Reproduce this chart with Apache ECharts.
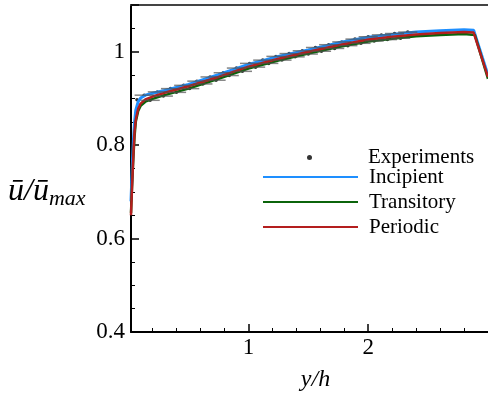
<!DOCTYPE html>
<html><head><meta charset="utf-8">
<script src="https://cdn.jsdelivr.net/npm/echarts@6/dist/echarts.min.js"></script>
<style>html,body{margin:0;padding:0;background:#fff}#c{width:488px;height:400px}</style>
</head><body><div id="c"></div>
<script>
// ---- data ----
const incipientX = [0.02,0.03,0.04,0.05,0.06,0.08,0.10,0.14,0.20,0.30,0.50,0.75,1.00,1.25,1.50,1.75,2.00,2.20,2.40,2.60,2.80,2.88,3.00];
const incipientY = [0.68,0.75,0.81,0.85,0.875,0.893,0.901,0.907,0.911,0.917,0.930,0.951,0.973,0.990,1.004,1.019,1.031,1.037,1.042,1.045,1.047,1.046,0.950];
const transitoryX = [0.02,0.03,0.04,0.05,0.06,0.08,0.10,0.14,0.20,0.30,0.50,0.75,1.00,1.25,1.50,1.75,2.00,2.20,2.40,2.60,2.80,2.89,3.00];
const transitoryY = [0.655,0.72,0.775,0.82,0.85,0.873,0.884,0.893,0.899,0.907,0.921,0.942,0.964,0.981,0.996,1.010,1.022,1.028,1.033,1.036,1.038,1.036,0.942];
const periodicX = [0.02,0.03,0.04,0.05,0.06,0.08,0.10,0.14,0.20,0.30,0.50,0.75,1.00,1.25,1.50,1.75,2.00,2.20,2.40,2.60,2.80,2.88,3.00];
const periodicY = [0.65,0.72,0.78,0.83,0.855,0.878,0.889,0.898,0.904,0.912,0.926,0.946,0.968,0.985,1.000,1.014,1.026,1.032,1.037,1.040,1.042,1.041,0.946];
const expX = [0.07,0.13,0.18,0.24,0.29,0.35,0.40,0.46,0.51,0.57,0.62,0.68,0.73,0.79,0.84,0.90,0.95,1.01,1.06,1.12,1.17,1.23,1.28,1.34,1.39,1.45,1.50,1.56,1.61,1.67,1.72,1.78,1.83,1.89,1.94,2.00,2.05,2.11,2.16,2.22,2.27,2.33];
const expY = [0.897,0.907,0.896,0.914,0.905,0.921,0.913,0.928,0.921,0.937,0.931,0.946,0.939,0.955,0.949,0.965,0.958,0.975,0.967,0.982,0.975,0.990,0.982,0.996,0.989,1.002,0.995,1.009,1.001,1.015,1.007,1.021,1.013,1.027,1.018,1.032,1.023,1.036,1.026,1.039,1.029,1.042];
const expErr = [0.00,0.08,0.08,0.08,0.08,0.08,0.08,0.08,0.08,0.08,0.08,0.08,0.08,0.08,0.08,0.08,0.08,0.08,0.08,0.08,0.08,0.08,0.08,0.08,0.08,0.08,0.08,0.08,0.08,0.08,0.08,0.08,0.08,0.08,0.08,0.08,0.08,0.08,0.08,0.08,0.08,0.08];
const xMajorTicks = [1, 2];
const xMinorTicks = [0.2,0.4,0.6,0.8,1.2,1.4,1.6,1.8,2.2,2.4,2.6,2.8];
const seriesNames = ['Experiments','Incipient','Transitory','Periodic'];
const colors = {Incipient:'#1e8fff', Transitory:'#0b640b', Periodic:'#b41e1e'};

const zip = (xs, ys) => xs.map((x, i) => [x, ys[i]]);
const FONT = 'Liberation Serif';

const chart = echarts.init(document.getElementById('c'));
chart.setOption({
  animation: false,
  backgroundColor: '#fff',
  grid: {left: 131, top: 5, right: -4, bottom: 68},
  xAxis: [
    {type:'value', min:0.02, max:3.0, position:'bottom',
     name:'y/h', nameLocation:'middle', nameGap:36,
     nameTextStyle:{fontFamily:FONT, fontStyle:'italic', fontSize:24, color:'#000', padding:[0,0,0,12]},
     axisLine:{show:true, onZero:false, lineStyle:{color:'#000', width:2}},
     axisTick:{show:true, inside:true, length:8, customValues:xMajorTicks, lineStyle:{color:'#000', width:1.5}},
     axisLabel:{show:true, customValues:xMajorTicks, margin:4, fontFamily:FONT, fontSize:23, color:'#000'},
     splitLine:{show:false}},
    {type:'value', min:0.02, max:3.0, position:'bottom',
     axisLine:{show:false, onZero:false},
     axisTick:{show:true, inside:true, length:4, customValues:xMinorTicks, lineStyle:{color:'#000', width:1}},
     axisLabel:{show:false}, splitLine:{show:false}},
    {type:'value', min:0.02, max:3.0, position:'top',
     axisLine:{show:true, onZero:false, lineStyle:{color:'#444', width:2}},
     axisTick:{show:false}, axisLabel:{show:false}, splitLine:{show:false}}
  ],
  yAxis: [
    {type:'value', min:0.4, max:1.1, interval:0.2, position:'left',
     axisLine:{show:true, onZero:false, lineStyle:{color:'#000', width:2}},
     axisTick:{show:true, inside:true, length:8, lineStyle:{color:'#000', width:1.5}},
     minorTick:{show:true, splitNumber:4, length:4, lineStyle:{color:'#000', width:1}},
     axisLabel:{show:true, showMaxLabel:false, margin:6, fontFamily:FONT, fontSize:23, color:'#000',
       formatter: v => (Math.abs(v-1) < 1e-9 ? '1' : v.toFixed(1))},
     splitLine:{show:false}}
  ],
  legend: [
    {data:[seriesNames[0]], left:302, top:142, orient:'vertical', itemWidth:5, itemHeight:5,
     textStyle:{fontFamily:FONT, fontSize:21, color:'#000', lineHeight:21, padding:[0,0,0,51]}},
    {data:seriesNames.slice(1), left:257, top:160, orient:'vertical', itemWidth:95, itemHeight:2, itemGap:1,
     itemStyle:{opacity:0},
     textStyle:{fontFamily:FONT, fontSize:21, color:'#000', lineHeight:21, padding:[3,0,0,6]}}
  ],
  graphic: [
    {type:'text', left:8, top:174, style:{
      text:'{a|ū/ū}{b|max}',
      rich:{a:{fontFamily:FONT, fontStyle:'italic', fontSize:32, fill:'#000', lineHeight:34},
            b:{fontFamily:FONT, fontStyle:'italic', fontSize:22, fill:'#000', padding:[14,0,0,0], lineHeight:34}}
    }}
  ],
  series: [
    {name:'Experiments', type:'scatter', data: zip(expX, expY), symbol:'circle', symbolSize:3.5,
     itemStyle:{color:'#000'}, z:1},
    {name:'expErr', type:'custom', z:5, silent:true, data: expX.map((x,i)=>[x, expY[i], expErr[i]]),
     renderItem: (params, api) => {
       const x = api.value(0), y = api.value(1), e = api.value(2);
       if (!e) return null;
       const p1 = api.coord([x-e, y]), p2 = api.coord([x+e, y]);
       return {type:'line', shape:{x1:p1[0], y1:p1[1], x2:p2[0], y2:p2[1]},
               style:{stroke:'rgba(80,80,80,0.7)', lineWidth:1.5}};
     }},
    {name:'Incipient', type:'line', data: zip(incipientX, incipientY), showSymbol:false, symbol:'none',
     lineStyle:{color:colors.Incipient, width:3}, itemStyle:{color:colors.Incipient}, z:2},
    {name:'Transitory', type:'line', data: zip(transitoryX, transitoryY), showSymbol:false, symbol:'none',
     lineStyle:{color:colors.Transitory, width:2.5}, itemStyle:{color:colors.Transitory}, z:3},
    {name:'Periodic', type:'line', data: zip(periodicX, periodicY), showSymbol:false, symbol:'none',
     lineStyle:{color:colors.Periodic, width:2.5}, itemStyle:{color:colors.Periodic}, z:4}
  ]
});
</script></body></html>
